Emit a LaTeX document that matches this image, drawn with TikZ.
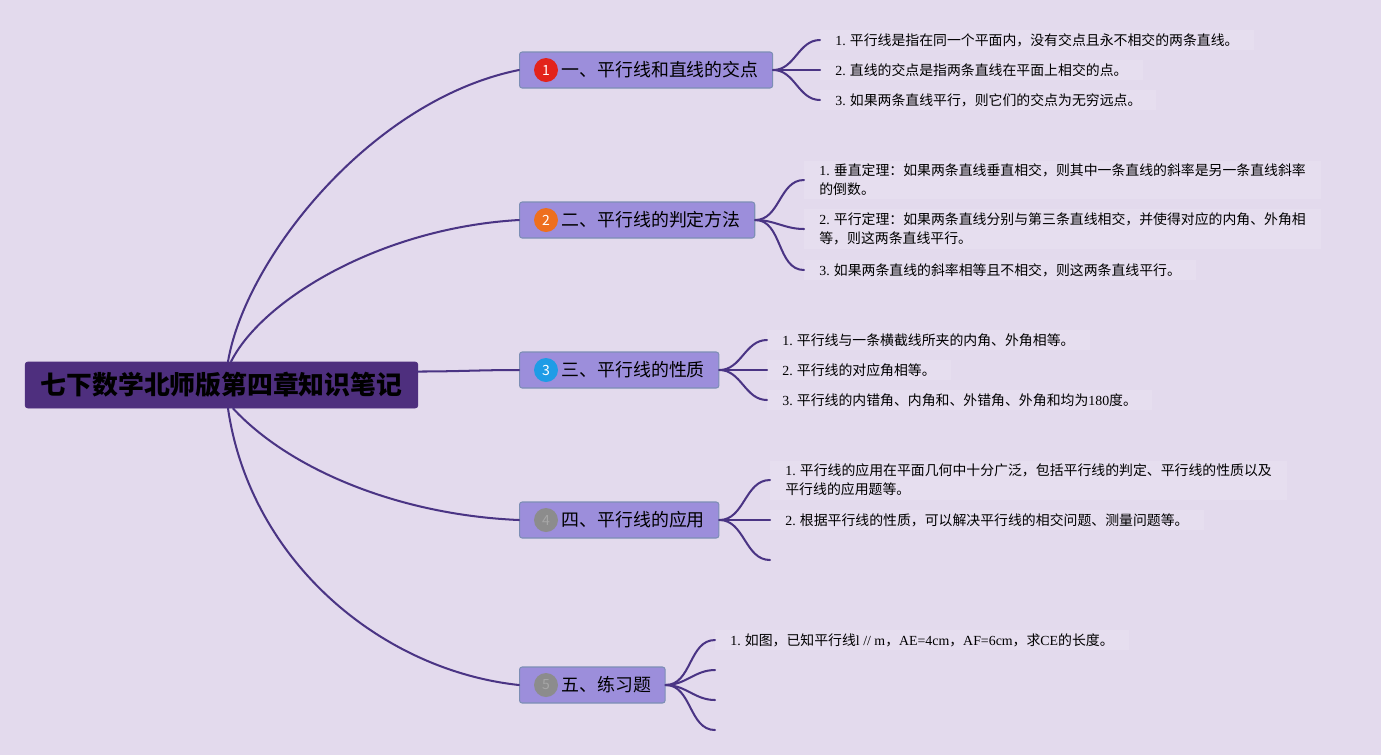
\documentclass[tikz,border=0pt]{standalone}
\usepackage{fontspec}
\setmainfont{Noto Sans CJK SC}
\newfontfamily\numfont{Liberation Serif}
\usetikzlibrary{positioning}

\definecolor{bgcol}{HTML}{E3DAED}
\definecolor{rootcol}{HTML}{4E2F7E}
\definecolor{boxcol}{HTML}{9C8EDB}
\definecolor{boxline}{HTML}{7D8EB5}
\definecolor{linecol}{HTML}{4A3484}
\definecolor{mkred}{HTML}{E3231B}
\definecolor{mkorange}{HTML}{EE6F1E}
\definecolor{mkblue}{HTML}{1E9CE6}
\definecolor{mkgray}{HTML}{8C8C8C}

\begin{document}
\begin{tikzpicture}[x=0.02cm,y=-0.02cm]
\tikzset{
  rootnode/.style={rectangle,rounded corners=1.5pt,fill=rootcol,draw=rootcol,minimum height=0.92cm,inner xsep=0.31cm,font=\fontsize{14.7pt}{16pt}\selectfont\bfseries},
  topicnode/.style={rectangle,rounded corners=1.5pt,fill=boxcol,draw=boxline,line width=0.6pt,minimum height=0.72cm,inner xsep=0.28cm,anchor=west,font=\fontsize{10.2pt}{12pt}\selectfont},
  marknode/.style={circle,minimum size=0.48cm,inner sep=0pt,text=white,font=\fontsize{8pt}{9pt}\selectfont},
  leafnode/.style={rectangle,anchor=west,align=left,inner xsep=0.3cm,inner ysep=2pt,fill=white,fill opacity=0.12,text opacity=1,font=\fontsize{7.9pt}{10.8pt}\selectfont},
  trunk/.style={draw=linecol,line width=1.15pt,line cap=round},
  twig/.style={draw=linecol,line width=1.15pt,line cap=round}
}
\fill[bgcol] (0,0) rectangle (1381,755);
\node[rootnode] (n_root) at (221.5,385) {七下数学北师版第四章知识笔记};
\node[topicnode] (n_b1) at (519,70) {\hspace{0.56cm}一、平行线和直线的交点};
\node[topicnode] (n_b2) at (519,220) {\hspace{0.56cm}二、平行线的判定方法};
\node[topicnode] (n_b3) at (519,370) {\hspace{0.56cm}三、平行线的性质};
\node[topicnode] (n_b4) at (519,520) {\hspace{0.56cm}四、平行线的应用};
\node[topicnode] (n_b5) at (519,685) {\hspace{0.56cm}五、练习题};
\node[marknode,fill=mkred] (n_c1) at ([xshift=0.54cm]n_b1.west) {1};
\node[marknode,fill=mkorange] (n_c2) at ([xshift=0.54cm]n_b2.west) {2};
\node[marknode,fill=mkblue] (n_c3) at ([xshift=0.54cm]n_b3.west) {3};
\node[marknode,fill=mkgray,text=gray!70] (n_c4) at ([xshift=0.54cm]n_b4.west) {4};
\node[marknode,fill=mkgray,text=gray!70] (n_c5) at ([xshift=0.54cm]n_b5.west) {5};
\node[leafnode] (n_l11) at (820,40) {{\numfont 1.} 平行线是指在同一个平面内，没有交点且永不相交的两条直线。};
\node[leafnode] (n_l12) at (820,70) {{\numfont 2.} 直线的交点是指两条直线在平面上相交的点。};
\node[leafnode] (n_l13) at (820,100) {{\numfont 3.} 如果两条直线平行，则它们的交点为无穷远点。};
\node[leafnode] (n_l21) at (804,180) {{\numfont 1.} 垂直定理：如果两条直线垂直相交，则其中一条直线的斜率是另一条直线斜率\\的倒数。};
\node[leafnode] (n_l22) at (804,229) {{\numfont 2.} 平行定理：如果两条直线分别与第三条直线相交，并使得对应的内角、外角相\\等，则这两条直线平行。};
\node[leafnode] (n_l23) at (804,270) {{\numfont 3.} 如果两条直线的斜率相等且不相交，则这两条直线平行。};
\node[leafnode] (n_l31) at (767,340) {{\numfont 1.} 平行线与一条横截线所夹的内角、外角相等。};
\node[leafnode] (n_l32) at (767,370) {{\numfont 2.} 平行线的对应角相等。};
\node[leafnode] (n_l33) at (767,400) {{\numfont 3.} 平行线的内错角、内角和、外错角、外角和均为{\numfont 180}度。};
\node[leafnode] (n_l41) at (770,480) {{\numfont 1.} 平行线的应用在平面几何中十分广泛，包括平行线的判定、平行线的性质以及\\平行线的应用题等。};
\node[leafnode] (n_l42) at (770,520) {{\numfont 2.} 根据平行线的性质，可以解决平行线的相交问题、测量问题等。};
\coordinate (n_l43) at (770,560);
\node[leafnode] (n_l51) at (715,640) {{\numfont 1.} 如图，已知平行线{\numfont l // m}，{\numfont AE=4cm}，{\numfont AF=6cm}，求{\numfont CE}的长度。};
\coordinate (n_l52) at (715,670);
\coordinate (n_l53) at (715,700);
\coordinate (n_l54) at (715,730);
\draw[trunk] ([xshift=0.13cm]n_root.north) .. controls (245,260) and (370,100) .. (n_b1.west);
\draw[trunk] ([xshift=0.19cm]n_root.north) .. controls (262,300) and (380,228) .. (n_b2.west);
\draw[trunk] ([yshift=0.27cm]n_root.east) to[out=0,in=180] (n_b3.west);
\draw[trunk] ([xshift=0.23cm]n_root.south) .. controls (290,470) and (400,515) .. (n_b4.west);
\draw[trunk] ([xshift=0.13cm]n_root.south) .. controls (250,560) and (380,670) .. (n_b5.west);
\draw[twig] (n_b1.east) to[out=0,in=180] (n_l11.west);
\draw[twig] (n_b1.east) to[out=0,in=180] (n_l12.west);
\draw[twig] (n_b1.east) to[out=0,in=180] (n_l13.west);
\draw[twig] (n_b2.east) to[out=0,in=180] (n_l21.west);
\draw[twig] (n_b2.east) to[out=0,in=180] (n_l22.west);
\draw[twig] (n_b2.east) to[out=0,in=180] (n_l23.west);
\draw[twig] (n_b3.east) to[out=0,in=180] (n_l31.west);
\draw[twig] (n_b3.east) to[out=0,in=180] (n_l32.west);
\draw[twig] (n_b3.east) to[out=0,in=180] (n_l33.west);
\draw[twig] (n_b4.east) to[out=0,in=180] (n_l41.west);
\draw[twig] (n_b4.east) to[out=0,in=180] (n_l42.west);
\draw[twig] (n_b4.east) to[out=0,in=180] (n_l43);
\draw[twig] (n_b5.east) to[out=0,in=180] (n_l51.west);
\draw[twig] (n_b5.east) to[out=0,in=180] (n_l52);
\draw[twig] (n_b5.east) to[out=0,in=180] (n_l53);
\draw[twig] (n_b5.east) to[out=0,in=180] (n_l54);
\end{tikzpicture}
\end{document}
